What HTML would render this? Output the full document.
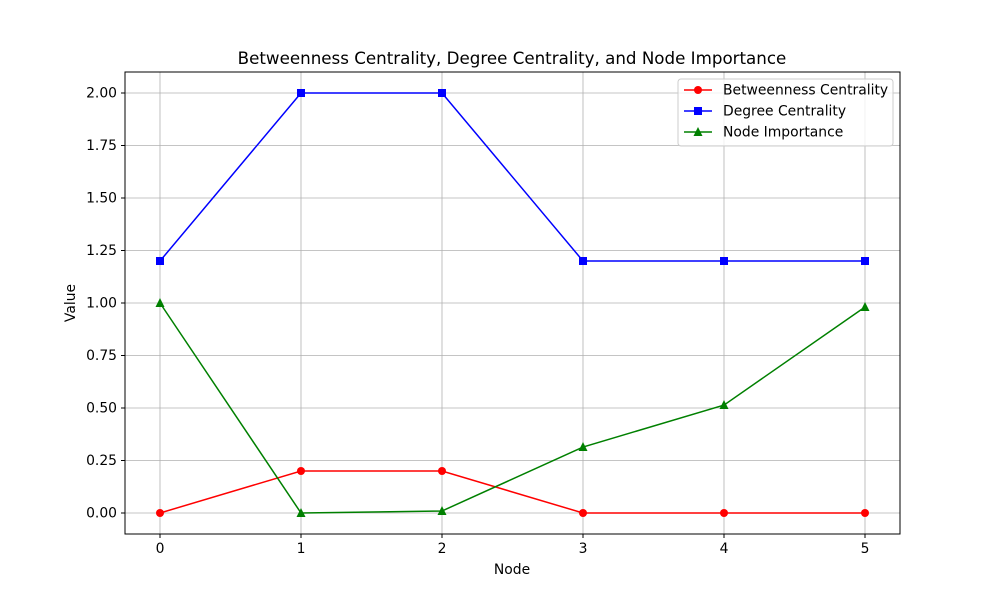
<!DOCTYPE html>
<html><head><meta charset="utf-8"><style>body{margin:0;background:#fff}svg{display:block;font-family:"DejaVu Sans","Liberation Sans",sans-serif}</style></head>
<body>
<svg id="chart" width="1000" height="600"></svg>
<script>
const categories=[0,1,2,3,4,5];
const betweenness=[0,0.2,0.2,0,0,0];
const degree=[1.2,2.0,2.0,1.2,1.2,1.2];
const importance=[1.0,0.0,0.0095,0.314,0.514,0.981];
const yTicks=[0,0.25,0.5,0.75,1.0,1.25,1.5,1.75,2.0];
const yTickLabels=["0.00","0.25","0.50","0.75","1.00","1.25","1.50","1.75","2.00"];
const NS="http://www.w3.org/2000/svg";
const svg=document.getElementById('chart');
const L=125,R=900,T=72,B=534;
const xs=v=>160+v*141;
const ys=v=>513-v*210;
function el(t,a,p){const e=document.createElementNS(NS,t);for(const k in a)e.setAttribute(k,a[k]);(p||svg).appendChild(e);return e;}
el('rect',{x:0,y:0,width:1000,height:600,fill:'#fff'});
const grid=el('g',{});


categories.forEach(c=>{el('line',{x1:xs(c),x2:xs(c),y1:T,y2:B,stroke:'#b0b0b0','stroke-width':0.8},grid);
const t=el('text',{x:xs(c),y:B+19,'text-anchor':'middle','font-size':13.9});t.textContent=c;

el('line',{x1:xs(c),x2:xs(c),y1:B,y2:B+4,stroke:'#000'});});
yTicks.forEach((v,i)=>{el('line',{x1:L,x2:R,y1:ys(v),y2:ys(v),stroke:'#b0b0b0','stroke-width':0.8},grid);
const t=el('text',{x:L-8,y:ys(v)+4.5,'text-anchor':'end','font-size':13.9});t.textContent=yTickLabels[i];

el('line',{x1:L-4,x2:L,y1:ys(v),y2:ys(v),stroke:'#000'});});
const frame=el('rect',{x:L,y:T,width:R-L,height:B-T,fill:'none',stroke:'#000','stroke-width':1});

function marker(g,x,y,shape,c){if(shape==='o')el('circle',{cx:x,cy:y,r:4,fill:c},g);
else if(shape==='s')el('rect',{x:x-4,y:y-4,width:8,height:8,fill:c},g);
else el('polygon',{points:`${x},${y-5} ${x-4.5},${y+4} ${x+4.5},${y+4}`,fill:c},g);}
function series(vals,c,shape,name){const g=el('g',{});

el('polyline',{points:vals.map((v,i)=>xs(categories[i])+','+ys(v)).join(' '),fill:'none',stroke:c,'stroke-width':1.5},g);
vals.forEach((v,i)=>marker(g,xs(categories[i]),ys(v),shape,c));}
series(betweenness,'red','o','series-betweenness');
series(degree,'blue','s','series-degree');
series(importance,'green','^','series-importance');
const title=el('text',{x:512,y:64,'text-anchor':'middle','font-size':16.7});title.textContent='Betweenness Centrality, Degree Centrality, and Node Importance';

const xl=el('text',{x:512,y:574,'text-anchor':'middle','font-size':13.9});xl.textContent='Node';

const yl=el('text',{x:75,y:303,'text-anchor':'middle','font-size':13.9,transform:'rotate(-90 75 303)'});yl.textContent='Value';

const lg=el('g',{});
el('rect',{x:678,y:79,width:215,height:67,rx:3,fill:'#fff','fill-opacity':0.8,stroke:'#ccc'},lg);
[['Betweenness Centrality','red','o'],['Degree Centrality','blue','s'],['Node Importance','green','^']].forEach((d,i)=>{
const y=90+i*21;const e=el('g',{},lg);
el('line',{x1:684,x2:712,y1:y,y2:y,stroke:d[1],'stroke-width':1.5},e);marker(e,698,y,d[2],d[1]);
const t=el('text',{x:723,y:y+4.5,'font-size':13.9},e);t.textContent=d[0];});
</script>
</body></html>
